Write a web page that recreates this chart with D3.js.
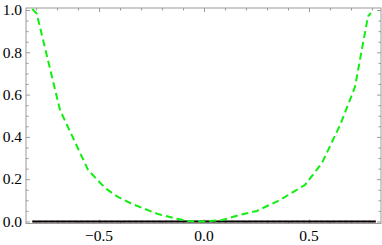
<!DOCTYPE html>
<html>
<head>
<meta charset="utf-8">
<script src="https://cdn.jsdelivr.net/npm/d3@7"></script>
<style>
  body { margin: 0; background: #fff; }
</style>
</head>
<body>
<div id="chart"></div>
<script>
// values
let curveX = [-0.818, -0.797, -0.686, -0.552, -0.471, -0.410, -0.343, -0.219, -0.148, -0.076, 0.0,
              0.086, 0.171, 0.252, 0.362, 0.481, 0.562, 0.648, 0.719, 0.776, 0.781, 0.795];
let curveY = [1.005, 0.983, 0.527, 0.243, 0.158, 0.116, 0.083, 0.035, 0.017, 0.002, 0.0,
              0.007, 0.031, 0.050, 0.102, 0.173, 0.277, 0.456, 0.636, 0.943, 0.970, 0.986];
let zeroX = [-0.818, 0.818];
let zeroY = [0, 0];
let xTicks = [-0.5, 0.0, 0.5];
let yTicks = [0.0, 0.2, 0.4, 0.6, 0.8, 1.0];

// svg / plot area
let config = {
  'svg': {},
  'plot': {}
};
config.svg.width = 382;
config.svg.height = 245;
config.plot.left = 26;
config.plot.right = 381;
config.plot.top = 8;
config.plot.bottom = 223.5;

function translate(x, y) {
  return 'translate(' + x + ',' + y + ')';
}

let svg = d3.select('#chart').append('svg')
  .attr('width', config.svg.width)
  .attr('height', config.svg.height);

let x = d3.scaleLinear()
  .domain([-0.848, 0.843])
  .range([config.plot.left, config.plot.right]);

let y = d3.scaleLinear()
  .domain([-0.0095, 1.0095])
  .range([config.plot.bottom, config.plot.top]);

let frameColor = '#9a9a9a';
let w = config.plot.right - config.plot.left;
let h = config.plot.bottom - config.plot.top;

// frame ticks (inward), no labels
let xMinor = d3.range(-8, 9).map(d => d / 10).filter(d => Math.abs(d * 10 % 5) > 0.01);
let yMinor = d3.range(0, 21).map(d => d / 20).filter(d => Math.abs(d * 20 % 4) > 0.01);

function frameAxis(axisFn, scale, ticks, size, pos) {
  let g = svg.append('g')
    .attr('transform', pos)
    .call(axisFn(scale).tickValues(ticks).tickSize(size).tickFormat(''));
  g.select('.domain').remove();
  g.selectAll('text').remove();
  g.selectAll('line').attr('stroke', frameColor).attr('stroke-width', 1);
  return g;
}

frameAxis(d3.axisTop, x, xTicks, 4, translate(0, config.plot.bottom));
frameAxis(d3.axisTop, x, xMinor, 2.5, translate(0, config.plot.bottom));
frameAxis(d3.axisBottom, x, xTicks, 4, translate(0, config.plot.top));
frameAxis(d3.axisBottom, x, xMinor, 2.5, translate(0, config.plot.top));
frameAxis(d3.axisRight, y, yTicks, 4, translate(config.plot.left, 0));
frameAxis(d3.axisRight, y, yMinor, 2.5, translate(config.plot.left, 0));
frameAxis(d3.axisLeft, y, yTicks, 4, translate(config.plot.right, 0));
frameAxis(d3.axisLeft, y, yMinor, 2.5, translate(config.plot.right, 0));

// tick labels, Times-like serif as in the original
let labelFont = 'Liberation Serif';

svg.append('g').selectAll('text')
  .data(xTicks)
  .join('text')
  .attr('x', d => x(d))
  .attr('y', config.plot.bottom + 17.5)
  .attr('text-anchor', 'middle')
  .attr('font-family', labelFont)
  .attr('font-size', 15.5)
  .attr('fill', '#000')
  .text(d => d3.format('.1f')(d).replace('-', '\u2212'));

svg.append('g').selectAll('text')
  .data(yTicks)
  .join('text')
  .attr('x', config.plot.left - 4)
  .attr('y', d => y(d))
  .attr('dy', '0.34em')
  .attr('text-anchor', 'end')
  .attr('font-family', labelFont)
  .attr('font-size', 15.5)
  .attr('fill', '#000')
  .text(d => d3.format('.1f')(d));

svg.append('rect')
  .attr('x', config.plot.left)
  .attr('y', config.plot.top)
  .attr('width', w)
  .attr('height', h)
  .attr('fill', 'none')
  .attr('stroke', frameColor)
  .attr('stroke-width', 1);

let line = d3.line()
  .x(d => x(d[0]))
  .y(d => y(d[1]));

let zeroPts = zeroX.map((d, i) => [d, zeroY[i]]);
let curvePts = curveX.map((d, i) => [d, curveY[i]]);

// red dashed line, almost hidden under the black one
svg.append('path')
  .datum(zeroPts)
  .attr('d', line)
  .attr('fill', 'none')
  .attr('stroke', '#e8a0a0')
  .attr('stroke-width', 2.2)
  .attr('stroke-dasharray', '3,3');

svg.append('path')
  .datum(zeroPts)
  .attr('d', line)
  .attr('fill', 'none')
  .attr('stroke', '#000')
  .attr('stroke-width', 1.8);

svg.append('path')
  .datum(curvePts)
  .attr('d', line)
  .attr('fill', 'none')
  .attr('stroke', '#11ee11')
  .attr('stroke-width', 2)
  .attr('stroke-linejoin', 'round')
  .attr('stroke-dasharray', '7,4');
</script>
</body>
</html>
